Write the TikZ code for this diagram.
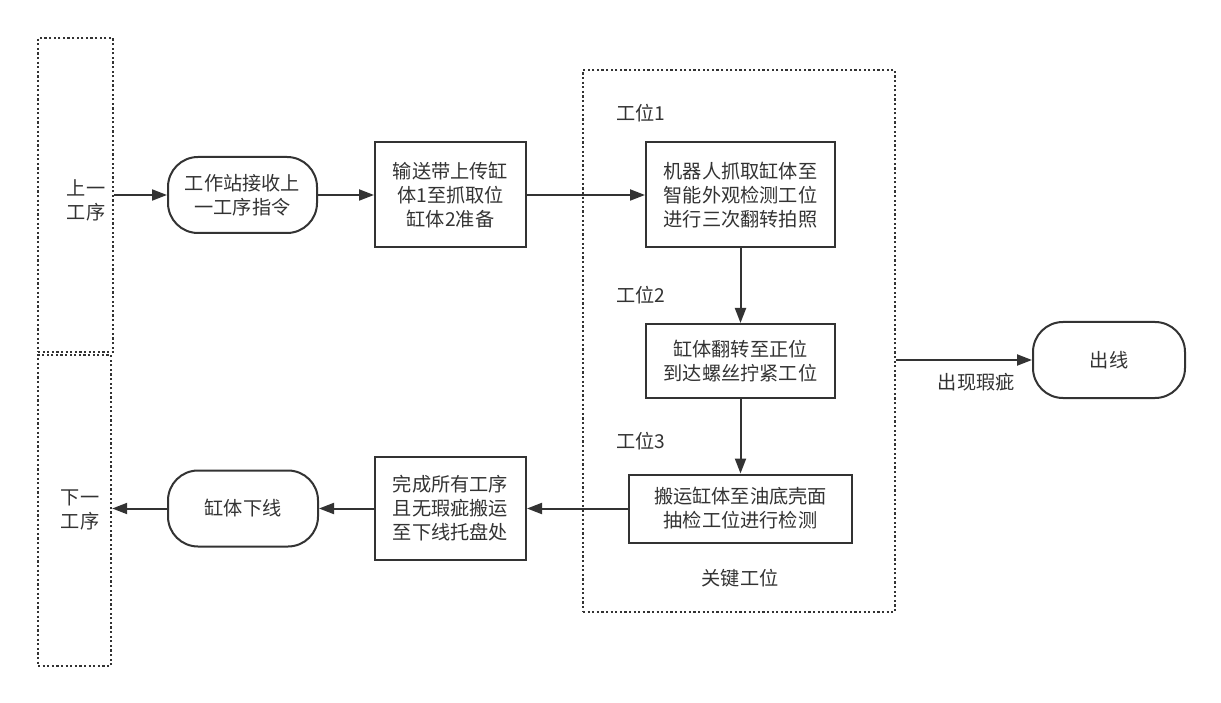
\documentclass[tikz,border=0pt]{standalone}
\usepackage{fontspec}
\setmainfont{Noto Sans CJK SC}
\usetikzlibrary{arrows.meta}
\definecolor{ink}{HTML}{333333}
\begin{document}
\begin{tikzpicture}[x=1pt,y=-1pt,
  every node/.style={font=\fontsize{19.2}{24}\selectfont, text=ink, inner sep=0pt, align=center},
  procbox/.style={draw=ink, line width=2pt, fill=white},
  roundbox/.style={draw=ink, line width=2pt, fill=white, rounded corners=30pt},
  dotbox/.style={draw=ink, line width=2.4pt, dash pattern=on 2.2pt off 2.4pt},
  arr/.style={draw=ink, line width=2pt, -{Triangle[length=15pt,width=11pt]}}
]
\useasboundingbox[fill=white] (0,0) rectangle (1221,703);
% dotted frames
\node[dotbox, minimum width=75pt, minimum height=314pt] (prev) at (75.5,195) {};
\node at (86,200) {上一\\工序};
\node[dotbox, minimum width=73pt, minimum height=311pt] (next) at (74.5,510.5) {};
\node at (80,510) {下一\\工序};
\node[dotbox, minimum width=312pt, minimum height=542pt] (key) at (739,341) {};
\node at (740,578) {关键工位};
% nodes
\node[roundbox, minimum width=149pt, minimum height=76pt] (recv) at (242.5,195) {工作站接收上\\一工序指令};
\node[procbox, minimum width=151pt, minimum height=105pt] (conv) at (450.5,195) {输送带上传缸\\体1至抓取位\\缸体2准备};
\node[procbox, minimum width=189pt, minimum height=105pt] (s1) at (740.5,195) {机器人抓取缸体至\\智能外观检测工位\\进行三次翻转拍照};
\node[procbox, minimum width=189pt, minimum height=74pt] (s2) at (740.5,361) {缸体翻转至正位\\到达螺丝拧紧工位};
\node[procbox, minimum width=223pt, minimum height=68pt] (s3) at (740.5,508.5) {搬运缸体至油底壳面\\抽检工位进行检测};
\node[procbox, minimum width=151pt, minimum height=103pt] (fin) at (450.5,508.5) {完成所有工序\\且无瑕疵搬运\\至下线托盘处};
\node[roundbox, minimum width=150pt, minimum height=76pt] (down) at (243,508.5) {缸体下线};
\node[roundbox, minimum width=152pt, minimum height=76pt] (out) at (1109,360) {出线};
% labels
\node (l1) at (641,113) {工位1};
\node (l2) at (641,295) {工位2};
\node (l3) at (641,441) {工位3};
% connectors
\draw[arr] (prev.east) -- (recv.west);
\draw[arr] (recv.east) -- (conv.west);
\draw[arr] (conv.east) -- (s1.west);
\draw[arr] (s1.south) -- (s2.north);
\draw[arr] (s2.south) -- (s3.north);
\draw[arr] (s3.west) -- (fin.east);
\draw[arr] (fin.west) -- (down.east);
\draw[arr] (down.west) -- (next.east |- down.west);
\draw[arr] (key.east |- out.west) -- node[pos=0.59, below=12pt] {出现瑕疵} (out.west);
\end{tikzpicture}
\end{document}
